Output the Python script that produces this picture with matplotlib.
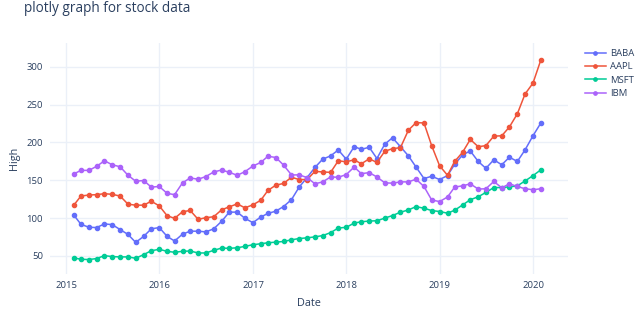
import pandas as pd
import matplotlib
matplotlib.use('Agg')
import matplotlib.pyplot as plt
import matplotlib.dates as mdates

# monthly highs, Jan 2015 .. Jan 2020 (month ends)
dates = pd.date_range('2015-01-31', periods=61, freq='ME')

baba = [103.9, 91.7, 87.8, 87.4, 92.2, 91.3, 84.8, 78.3, 67.8, 75.7, 85.7, 87.4, 75.7,
        69.6, 78.7, 82.6, 82.6, 81.7, 85.7, 95.7, 107.8, 107.8, 99.6, 93.9, 101.3,
        106.1, 109.1, 115.2, 124.3, 140.9, 153.5, 167.0, 177.8, 182.2, 190.0, 177.8, 194.3,
        190.9, 193.5, 178.7, 197.8, 206.1, 194.3, 182.2, 167.4, 152.2, 155.2, 150.9, 156.1,
        171.0, 183.5, 188.7, 174.8, 165.7, 177.0, 170.4, 180.4, 174.8, 190.0, 208.7, 225.7]
aapl = [117.0, 129.1, 130.4, 130.9, 132.2, 131.3, 129.1, 118.3, 117.0, 117.0, 122.2, 116.1, 103.0,
        99.6, 108.3, 110.0, 98.3, 100.4, 101.7, 110.9, 114.8, 118.7, 113.5, 117.4, 123.5,
        136.5, 143.5, 145.7, 153.9, 150.9, 150.9, 161.7, 160.9, 160.4, 175.7, 174.3, 177.0,
        171.7, 178.3, 173.5, 188.3, 191.7, 193.0, 216.1, 226.1, 225.7, 195.7, 169.1, 156.5,
        174.8, 187.0, 203.9, 194.3, 195.7, 208.3, 208.7, 220.4, 237.8, 263.9, 278.3, 309.1]
msft = [47.3, 45.5, 45.1, 46.4, 50.3, 49.0, 48.6, 48.6, 46.8, 51.6, 56.8, 58.6, 56.0,
        54.7, 56.0, 56.4, 53.8, 53.8, 57.3, 60.3, 59.9, 60.7, 62.5, 64.7, 66.0,
        67.3, 68.1, 69.0, 71.2, 72.9, 73.8, 75.1, 76.8, 80.7, 86.8, 87.7, 93.3,
        95.1, 96.0, 96.4, 99.9, 103.3, 107.7, 110.7, 115.1, 112.9, 109.9, 108.6, 106.4,
        110.3, 117.3, 124.2, 128.1, 133.8, 140.3, 140.3, 141.2, 142.5, 149.0, 156.0, 163.8]
ibm = [158.3, 163.0, 163.0, 168.3, 175.7, 170.4, 167.8, 156.5, 148.7, 149.6, 140.9, 141.7, 132.6,
       130.9, 146.5, 153.0, 151.3, 154.8, 160.9, 163.5, 160.4, 156.5, 161.3, 168.7, 173.5,
       181.7, 180.0, 170.0, 157.0, 157.0, 153.5, 145.2, 147.8, 154.3, 153.9, 157.4, 167.4,
       158.7, 160.0, 154.3, 146.5, 146.1, 147.8, 147.8, 151.3, 141.7, 123.9, 121.7, 127.8,
       140.9, 142.6, 145.2, 138.3, 138.7, 148.3, 140.0, 145.2, 141.7, 138.7, 137.4, 138.7]

series = [('BABA', baba, '#636efa'), ('AAPL', aapl, '#EF553B'),
          ('MSFT', msft, '#00cc96'), ('IBM', ibm, '#ab63fa')]

txt = '#2a3f5f'
plt.rcParams['font.family'] = ['Open Sans', 'DejaVu Sans']

W, H = 640, 322
fig = plt.figure(figsize=(W / 100, H / 100), dpi=100)
left, right, top, bottom = 50, 568, 43, 274
ax = fig.add_axes([left / W, 1 - bottom / H, (right - left) / W, (bottom - top) / H])

for name, vals, col in series:
    ax.plot(dates, vals, color=col, lw=1.1, marker='o', ms=3.0, label=name, zorder=3)

ax.set_xlim(pd.Timestamp('2014-10-30'), pd.Timestamp('2020-05-16'))
ax.set_ylim(26, 331.4)
ax.set_yticks([50, 100, 150, 200, 250, 300])
ax.xaxis.set_major_locator(mdates.YearLocator())
ax.xaxis.set_major_formatter(mdates.DateFormatter('%Y'))

ax.grid(True, color='#EBF0F8', lw=1)
ax.set_axisbelow(True)
for s in ax.spines.values():
    s.set_visible(False)
ax.tick_params(length=0, labelsize=6.8, labelcolor=txt, pad=5)

ax.set_xlabel('Date', fontsize=7.8, color=txt, labelpad=6)
ax.set_ylabel('High', fontsize=7.8, color=txt, labelpad=5)

fig.text(24 / W, 1 - 8 / H, 'plotly graph for stock data', fontsize=9.8, color=txt,
         ha='left', va='center')

leg = ax.legend(loc='upper left', bbox_to_anchor=(1.025, 0.99), frameon=False,
                fontsize=6.8, handlelength=2.2, handletextpad=0.5, labelspacing=0.45,
                borderaxespad=0, markerscale=0.8)
for t in leg.get_texts():
    t.set_color(txt)

fig.savefig('out.png', dpi=100, facecolor='white')
